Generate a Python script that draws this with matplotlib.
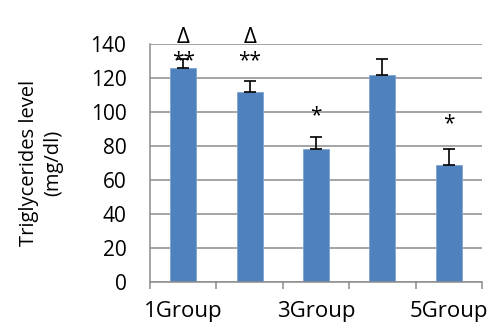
import numpy as np
import matplotlib
matplotlib.use('Agg')
import matplotlib.pyplot as plt

plt.rcParams['font.family'] = ['Open Sans', 'DejaVu Sans']

groups = ['1Group', '2Group', '3Group', '4Group', '5Group']
triglycerides = [126, 112, 78, 122, 69]
errors = [5, 6, 7.5, 9, 9.5]
star_marks = ['**', '**', '*', '', '*']
star_levels = [130, 130, 98, None, 93]
delta_marks = ['\u0394', '\u0394', '', '', '']
delta_level = 144

fig = plt.figure(figsize=(5, 3.33), dpi=100)
ax = fig.add_axes([0.30, 0.153, 0.664, 0.715])

x = np.arange(len(groups))
ax.bar(x, triglycerides, width=0.39, color='#4F81BD', edgecolor='#7FA3D3',
       linewidth=0.6, zorder=2)
ax.errorbar(x, triglycerides, yerr=[np.zeros(len(errors)), errors], fmt='none',
            ecolor='black', elinewidth=1.2, capsize=4, capthick=1.2, zorder=3)

for i in range(len(groups)):
    if star_marks[i]:
        ax.text(x[i], star_levels[i], star_marks[i], ha='center', va='center',
                fontsize=15, zorder=4)
    if delta_marks[i]:
        ax.text(x[i], delta_level, delta_marks[i], ha='center', va='center',
                fontsize=16, clip_on=False)

ax.set_xlim(-0.5, len(groups) - 0.5)
ax.set_ylim(0, 140)
ax.set_yticks(np.arange(0, 141, 20))
ax.yaxis.grid(True, color='#8C8C8C', linewidth=1.1, zorder=0)
ax.set_axisbelow(True)

ax.set_xticks(x[::2])
ax.set_xticklabels(groups[::2], fontsize=16)
ax.set_xticks(np.arange(-0.5, len(groups), 1), minor=True)
ax.tick_params(axis='x', which='major', length=0, pad=14)
ax.tick_params(axis='x', which='minor', length=5, color='#8C8C8C', width=1.1)
ax.tick_params(axis='y', length=0, labelsize=15, pad=17)

for side in ['top', 'right']:
    ax.spines[side].set_visible(False)
for side in ['left', 'bottom']:
    ax.spines[side].set_color('#8C8C8C')
    ax.spines[side].set_linewidth(1.1)

ax.set_ylabel('Triglycerides level\n(mg/dl)', fontsize=14.5, linespacing=1.25)
ax.yaxis.set_label_coords(-0.262, 0.5)

fig.savefig('out.png', dpi=100)
